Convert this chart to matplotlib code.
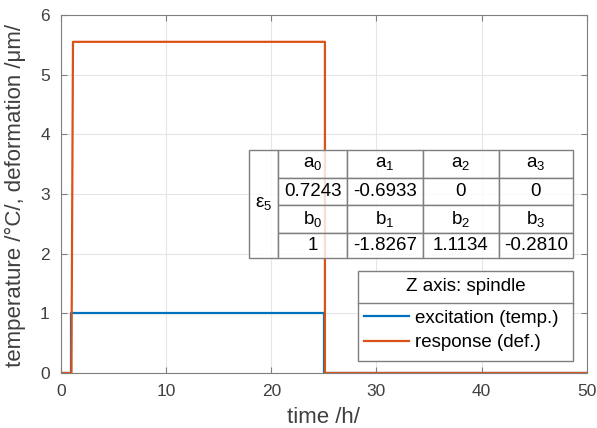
import numpy as np
import matplotlib.pyplot as plt
from matplotlib.patches import Rectangle

plt.rcParams['font.family'] = ['Liberation Sans', 'DejaVu Sans']
plt.rcParams['mathtext.fontset'] = 'custom'
plt.rcParams['mathtext.rm'] = 'Liberation Sans'
plt.rcParams['mathtext.it'] = 'Liberation Sans:italic'

# step data
t_exc = [0, 1, 1, 25, 25, 50]
excitation = [0, 0, 1, 1, 0, 0]
t_resp = [0, 1, 1.15, 25.1, 25.1, 50]
response = [0, 0, 5.55, 5.55, 0, 0]

# coefficient table
col_heads = ['a$_\\mathregular{0}$', 'a$_\\mathregular{1}$', 'a$_\\mathregular{2}$', 'a$_\\mathregular{3}$']
a_vals = ['0.7243', '-0.6933', '0', '0']
row_heads = ['b$_\\mathregular{0}$', 'b$_\\mathregular{1}$', 'b$_\\mathregular{2}$', 'b$_\\mathregular{3}$']
b_vals = ['1', '-1.8267', '1.1134', '-0.2810']
side_label = 'ε$_\\mathregular{5}$'

blue = '#0072BD'
orange = '#D95319'
gray = '#7f7f7f'
txt = '#404040'

fig = plt.figure(figsize=(5.97, 4.28), dpi=100)
ax = fig.add_axes([0.102, 0.1285, 0.881, 0.8365])

l1, = ax.plot(t_exc, excitation, color=blue, lw=1.6, label='excitation (temp.)')
l2, = ax.plot(t_resp, response, color=orange, lw=1.6, label='response (def.)')

ax.set_xlim(0, 50)
ax.set_ylim(0, 6)
ax.set_xticks(np.arange(0, 51, 10))
ax.set_yticks(np.arange(0, 7, 1))
ax.grid(True, color='#e6e6e6', lw=0.8)
ax.set_axisbelow(True)
ax.tick_params(direction='in', length=4, top=True, right=True, colors=gray,
               labelcolor=txt, labelsize=12.5, pad=8)
for s in ax.spines.values():
    s.set_color(gray)
ax.set_xlabel('time /h/', fontsize=16, color=txt)
ax.set_ylabel('temperature /°C/, deformation /μm/', fontsize=16, color=txt)
ax.xaxis.set_label_coords(0.5, -0.096)
ax.yaxis.set_label_coords(-0.066, 0.496)

# table drawn in axes fraction
def fx(px):
    return (px - 61) / 526

def fy(py):
    return (373 - py) / 358

cols = [249.5, 278.5, 347, 423, 499, 573]
rows = [150, 178, 205, 233.5, 258]
tab_rows = [col_heads, a_vals, row_heads, b_vals]
kw = dict(transform=ax.transAxes, facecolor=(1, 1, 1, 0.82), edgecolor=gray, lw=1, zorder=5)
ax.add_patch(Rectangle((fx(cols[0]), fy(rows[-1])), fx(cols[1]) - fx(cols[0]),
                       fy(rows[0]) - fy(rows[-1]), **kw))
ax.text((fx(cols[0]) + fx(cols[1])) / 2, (fy(rows[0]) + fy(rows[-1])) / 2, side_label,
        transform=ax.transAxes, ha='center', va='center', fontsize=13.5, zorder=6)
for i, vals in enumerate(tab_rows):
    for j, v in enumerate(vals):
        x0, x1 = fx(cols[j + 1]), fx(cols[j + 2])
        y0, y1 = fy(rows[i + 1]), fy(rows[i])
        ax.add_patch(Rectangle((x0, y0), x1 - x0, y1 - y0, **kw))
        ax.text((x0 + x1) / 2, (y0 + y1) / 2, v, transform=ax.transAxes,
                ha='center', va='center', fontsize=13.5, zorder=6)

# legend box: frame, title, separator, then entries
box_l, box_r, box_t, box_b, sep = 358.3, 572.7, 271, 361, 302.7
ax.add_patch(Rectangle((fx(box_l), fy(box_b)), fx(box_r) - fx(box_l), fy(box_t) - fy(box_b),
                       transform=ax.transAxes, facecolor='white', edgecolor=gray, lw=1, zorder=7))
ax.plot([fx(box_l), fx(box_r)], [fy(sep), fy(sep)], transform=ax.transAxes,
        color=gray, lw=1, zorder=8)
ax.text((fx(box_l) + fx(box_r)) / 2, fy((box_t + sep) / 2), 'Z axis: spindle',
        transform=ax.transAxes, ha='center', va='center', fontsize=13.5, color='black', zorder=8)
leg = ax.legend(handles=[l1, l2], loc='center left', bbox_to_anchor=(fx(364), fy(330.5)),
                frameon=False, fontsize=13.5, handlelength=2.4, handletextpad=0.35,
                borderpad=0, borderaxespad=0, labelspacing=0.38)
leg.set_zorder(9)

fig.savefig('out.png', dpi=100)
